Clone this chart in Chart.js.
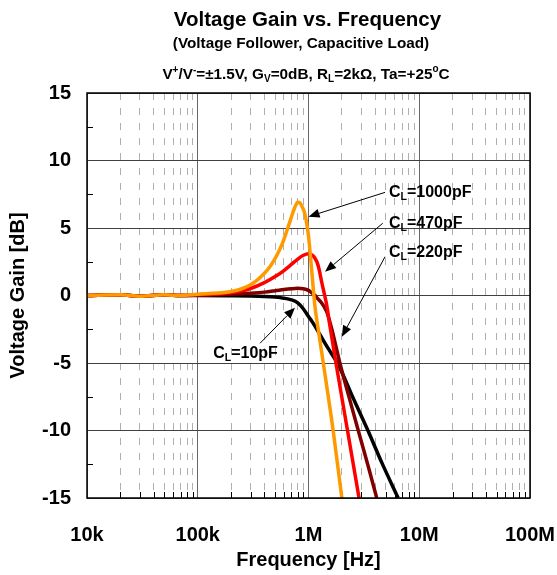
<!DOCTYPE html>
<html>
<head>
<meta charset="utf-8">
<script src="https://cdn.jsdelivr.net/npm/chart.js@4.4.1/dist/chart.umd.min.js"></script>
<style>
html, body { margin: 0; padding: 0; background: #fff; }
canvas { display: block; }
</style>
</head>
<body>
<canvas id="gain-chart" width="557" height="575"></canvas>
<script>
// values (frequency in Hz, gain in dB)
const freq1000 = [1e4, 2e4, 3e4, 5e4, 7e4, 1e5, 1.5e5, 2e5, 2.5e5, 3e5, 3.5e5, 4e5, 4.5e5, 5e5, 5.5e5, 6e5, 6.5e5, 7e5, 7.5e5, 8e5, 8.4e5, 8.8e5, 9.3e5, 1.0e6, 1.07e6, 1.14e6, 1.25e6, 1.36e6, 1.67e6, 2.0e6];
const gain1000 = [0, 0.05, -0.05, 0.05, 0, 0.1, 0.18, 0.3, 0.5, 0.8, 1.2, 1.65, 2.15, 2.75, 3.4, 4.15, 5.0, 5.8, 6.5, 6.9, 6.85, 6.55, 6.0, 4.4, 1.8, -0.7, -3.0, -5, -10, -15];

const freq470 = [1e4, 2e4, 3e4, 5e4, 7e4, 1e5, 1.5e5, 2e5, 2.5e5, 3e5, 4e5, 5e5, 6e5, 7e5, 8e5, 9e5, 1.0e6, 1.1e6, 1.19e6, 1.25e6, 1.315e6, 1.4e6, 1.46e6, 1.55e6, 1.77e6, 2.25e6, 2.86e6];
const gain470 = [0, 0.05, -0.05, 0.05, 0, 0.05, 0.12, 0.22, 0.35, 0.52, 0.95, 1.4, 1.85, 2.3, 2.7, 2.98, 3.1, 2.95, 2.5, 1.9, 1.0, 0, -0.7, -2.1, -5, -10, -15];

const freq220 = [1e4, 2e4, 3e4, 5e4, 7e4, 1e5, 2e5, 3e5, 4e5, 5e5, 6e5, 7e5, 8e5, 9e5, 1.0e6, 1.1e6, 1.15e6, 1.2e6, 1.3e6, 1.46e6, 1.6e6, 1.75e6, 1.92e6, 2.3e6, 2.88e6, 3.5e6, 4.13e6];
const gain220 = [0, 0.05, -0.05, 0.05, 0, 0.03, 0.1, 0.17, 0.25, 0.35, 0.44, 0.5, 0.53, 0.5, 0.38, 0.12, 0, -0.2, -0.5, -1.2, -2.3, -3.6, -5, -7.4, -10.3, -12.8, -15];

const freq10 = [1e4, 2e4, 3e4, 5e4, 7e4, 1e5, 2e5, 3e5, 4e5, 5e5, 6e5, 7e5, 8e5, 9e5, 1.0e6, 1.1e6, 1.27e6, 1.5e6, 1.85e6, 2.5e6, 3.44e6, 4.6e6, 6.45e6];
const gain10 = [0, 0.05, -0.05, 0.05, 0, 0, -0.02, -0.04, -0.07, -0.12, -0.2, -0.32, -0.55, -1.0, -1.55, -2.05, -2.9, -3.9, -5.1, -7.5, -10, -12.4, -15];

const decadeValues = [1e4, 1e5, 1e6, 1e7, 1e8];
const decadeLabels = ['10k', '100k', '1M', '10M', '100M'];
const gainTicks = [-15, -10, -5, 0, 5, 10, 15];

// call-out labels, placed in data units
const notes = [
  { cap: '1000pF', text: [5.33e6, 7.32], tail: [4.91e6, 7.64], tip: [1.0e6, 5.84] },
  { cap: '470pF', text: [5.33e6, 4.98], tail: [4.68e6, 5.35], tip: [1.41e6, 1.76] },
  { cap: '220pF', text: [5.33e6, 2.87], tail: [4.91e6, 2.87], tip: [2.0e6, -3.05] },
  { cap: '10pF', text: [1.38e5, -4.63], tail: [3.65e5, -3.54], tip: [7.55e5, -0.9] }
];

const FONT = '"Liberation Sans", Arial, sans-serif';

// all 1..9 x decade positions for grid lines
const xGridValues = [];
for (let d = 0; d < decadeValues.length; d++) {
  for (let m = 1; m <= 9; m++) {
    const v = decadeValues[d] * m;
    if (v <= 1e8) xGridValues.push(v);
  }
}
function isDecade(v) {
  return decadeValues.some(d => Math.abs(d - v) / d < 1e-6);
}

function pts(fs, gs) {
  return fs.map((f, i) => ({ x: f, y: gs[i] }));
}

// draws text made of runs with sub/superscripts
function drawRich(ctx, runs, x, y, align) {
  let total = 0;
  runs.forEach(r => {
    ctx.font = 'bold ' + r.s + 'px ' + FONT;
    r.w = ctx.measureText(r.t).width;
    total += r.w;
  });
  let cx = align === 'center' ? x - total / 2 : x;
  ctx.textAlign = 'left';
  ctx.textBaseline = 'alphabetic';
  runs.forEach(r => {
    ctx.font = 'bold ' + r.s + 'px ' + FONT;
    ctx.fillText(r.t, cx, y + (r.dy || 0));
    cx += r.w;
  });
}

function arrow(ctx, x1, y1, x2, y2) {
  const a = Math.atan2(y2 - y1, x2 - x1);
  const len = 11, hw = 4.5;
  const bx = x2 - len * Math.cos(a), by = y2 - len * Math.sin(a);
  ctx.beginPath();
  ctx.moveTo(x1, y1);
  ctx.lineTo(bx, by);
  ctx.stroke();
  ctx.beginPath();
  ctx.moveTo(x2, y2);
  ctx.lineTo(bx + hw * Math.sin(a), by - hw * Math.cos(a));
  ctx.lineTo(bx - hw * Math.sin(a), by + hw * Math.cos(a));
  ctx.closePath();
  ctx.fill();
}

const decor = {
  id: 'decor',
  beforeDatasetsDraw(chart) {
    const { ctx, chartArea: a, scales: { x, y } } = chart;
    ctx.save();
    ctx.strokeStyle = '#000';
    ctx.lineWidth = 1;
    // inner minor ticks on the bottom axis
    xGridValues.forEach(v => {
      if (isDecade(v)) return;
      const px = Math.round(x.getPixelForValue(v)) + 0.5;
      ctx.beginPath();
      ctx.moveTo(px, a.bottom);
      ctx.lineTo(px, a.bottom - 6);
      ctx.stroke();
    });
    // inner ticks every 2.5 dB on the left axis
    for (let g = -12.5; g <= 12.5; g += 5) {
      const py = Math.round(y.getPixelForValue(g)) + 0.5;
      ctx.beginPath();
      ctx.moveTo(a.left, py);
      ctx.lineTo(a.left + 6, py);
      ctx.stroke();
    }
    ctx.restore();
  },
  afterDraw(chart) {
    const { ctx, chartArea: a, scales: { x, y } } = chart;
    ctx.save();
    ctx.strokeStyle = '#000';
    ctx.lineWidth = 1.5;
    ctx.strokeRect(a.left, a.top, a.right - a.left, a.bottom - a.top);

    ctx.fillStyle = '#000';
    // titles
    drawRich(ctx, [{ t: 'Voltage Gain vs. Frequency', s: 20.5 }], 307.5, 25.5, 'center');
    drawRich(ctx, [{ t: '(Voltage Follower, Capacitive Load)', s: 15.3 }], 301, 48.3, 'center');
    drawRich(ctx, [
      { t: 'V', s: 15.3 }, { t: '+', s: 10, dy: -6 },
      { t: '/V', s: 15.3 }, { t: '-', s: 10, dy: -6 },
      { t: '=\u00b11.5V, G', s: 15.3 }, { t: 'V', s: 10, dy: 3 },
      { t: '=0dB, R', s: 15.3 }, { t: 'L', s: 10, dy: 3 },
      { t: '=2k\u03a9, Ta=+25', s: 15.3 }, { t: 'o', s: 10, dy: -7 },
      { t: 'C', s: 15.3 }
    ], 306, 79, 'center');

    // call-outs
    ctx.lineWidth = 1;
    notes.forEach(n => {
      arrow(ctx,
        x.getPixelForValue(n.tail[0]), y.getPixelForValue(n.tail[1]),
        x.getPixelForValue(n.tip[0]), y.getPixelForValue(n.tip[1]));
      drawRich(ctx, [
        { t: 'C', s: 16 }, { t: 'L', s: 10.5, dy: 3 }, { t: '=' + n.cap, s: 16 }
      ], x.getPixelForValue(n.text[0]), y.getPixelForValue(n.text[1]), 'left');
    });
    ctx.restore();
  }
};

const line = (label, fs, gs, color) => ({
  label: label,
  data: pts(fs, gs),
  borderColor: color,
  backgroundColor: color,
  borderWidth: 3.5,
  pointRadius: 0,
  cubicInterpolationMode: 'monotone',
  fill: false
});

new Chart(document.getElementById('gain-chart').getContext('2d'), {
  type: 'line',
  data: {
    datasets: [
      line('CL=1000pF', freq1000, gain1000, '#FF9900'),
      line('CL=470pF', freq470, gain470, '#FF0000'),
      line('CL=220pF', freq220, gain220, '#800000'),
      line('CL=10pF', freq10, gain10, '#000000')
    ]
  },
  options: {
    responsive: false,
    animation: false,
    devicePixelRatio: 1,
    layout: { padding: { top: 93, right: 27, bottom: 0, left: 0 } },
    plugins: { legend: { display: false }, tooltip: { enabled: false } },
    scales: {
      x: {
        type: 'logarithmic',
        min: 1e4,
        max: 1e8,
        afterBuildTicks: s => { s.ticks = xGridValues.map(v => ({ value: v })); },
        afterFit: s => { s.height = 77; s.paddingLeft = 0; s.paddingRight = 0; },
        ticks: {
          autoSkip: false,
          maxRotation: 0,
          padding: 25,
          color: '#000',
          font: { family: FONT, size: 20, weight: 'bold' },
          callback: v => {
            const i = decadeValues.findIndex(d => Math.abs(d - v) / d < 1e-6);
            return i >= 0 ? decadeLabels[i] : '';
          }
        },
        grid: {
          drawTicks: false,
          lineWidth: 1,
          color: c => (c.tick && isDecade(c.tick.value)) ? '#666666' : '#b0b0b0'
        },
        border: {
          display: false,
          dash: c => (c.tick && !isDecade(c.tick.value)) ? [7, 8] : []
        },
        title: {
          display: true,
          text: 'Frequency [Hz]',
          color: '#000',
          font: { family: FONT, size: 20, weight: 'bold' },
          padding: { top: 0, bottom: 3 }
        }
      },
      y: {
        min: -15,
        max: 15,
        afterBuildTicks: s => { s.ticks = gainTicks.map(v => ({ value: v })); },
        afterFit: s => { s.width = 87; s.paddingTop = 0; s.paddingBottom = 0; },
        ticks: {
          padding: 16,
          color: '#000',
          font: { family: FONT, size: 20, weight: 'bold' },
          callback: v => String(v)
        },
        grid: { drawTicks: false, lineWidth: 1, color: '#404040' },
        border: { display: false },
        title: {
          display: true,
          text: 'Voltage Gain [dB]',
          color: '#000',
          font: { family: FONT, size: 20, weight: 'bold' },
          padding: { top: 6, bottom: 0 }
        }
      }
    }
  },
  plugins: [decor]
});
</script>
</body>
</html>
